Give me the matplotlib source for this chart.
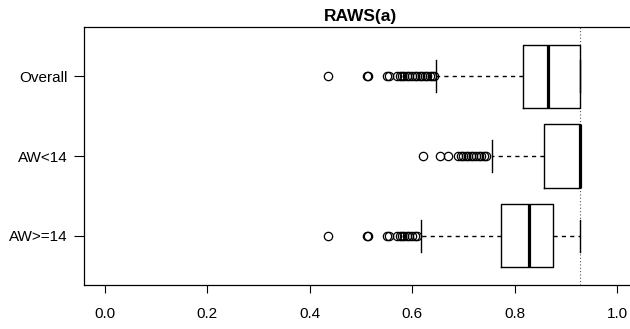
import matplotlib
matplotlib.use("Agg")
import matplotlib.pyplot as plt

plt.rcParams['font.family'] = ['Liberation Sans', 'DejaVu Sans']

categories = ["Overall", "AW<14", "AW>=14"]
q1 = [0.816, 0.857, 0.773]
median = [0.865, 0.928, 0.829]
q3 = [0.928, 0.928, 0.876]
whisker_low = [0.647, 0.757, 0.618]
whisker_high = [0.928, 0.928, 0.928]
outliers = [
    [0.437, 0.513, 0.515, 0.551, 0.556, 0.570, 0.576, 0.580, 0.585, 0.590, 0.595,
     0.600, 0.605, 0.610, 0.615, 0.620, 0.625, 0.630, 0.635, 0.640, 0.643],
    [0.622, 0.654, 0.671, 0.689, 0.695, 0.700, 0.706, 0.710, 0.715, 0.720, 0.725,
     0.730, 0.735, 0.740, 0.745],
    [0.437, 0.513, 0.515, 0.551, 0.556, 0.570, 0.576, 0.580, 0.585, 0.590, 0.595,
     0.600, 0.605, 0.610],
]
reference_value = 0.928
title = "RAWS(a)"
xticks = [0.0, 0.2, 0.4, 0.6, 0.8, 1.0]

fig = plt.figure(figsize=(6.30, 3.29), dpi=100)
ax = fig.add_axes([84/630, 1-285/329, 553.5/630, 258/329])

stats = []
for i, c in enumerate(categories):
    stats.append(dict(label=c, med=median[i], q1=q1[i], q3=q3[i],
                      whislo=whisker_low[i], whishi=whisker_high[i],
                      fliers=outliers[i]))
positions = [3, 2, 1]
ax.bxp(stats, positions=positions, vert=False, widths=0.8, capwidths=0.4,
       showfliers=True,
       boxprops=dict(color='black', linewidth=1.0),
       medianprops=dict(color='black', linewidth=2.3, solid_capstyle='butt'),
       whiskerprops=dict(color='black', linewidth=1.0, linestyle=(0, (3, 3))),
       capprops=dict(color='black', linewidth=1.0),
       flierprops=dict(marker='o', markersize=6, markerfacecolor='none',
                       markeredgecolor='black', markeredgewidth=0.9))

ax.axvline(reference_value, color='#555555', linestyle=(0, (1, 2)), linewidth=0.8, zorder=0)

ax.set_xlim(-0.04, 1.04)
ax.set_ylim(0.38, 3.62)
ax.set_xticks(xticks)
ax.set_xticklabels([f"{t:.1f}" for t in xticks], fontsize=11)
ax.set_yticks(positions)
ax.set_yticklabels(categories, fontsize=11)
ax.tick_params(axis='x', length=6, width=0.8, pad=10)
ax.tick_params(axis='y', length=7, width=0.8, pad=5)
for s in ax.spines.values():
    s.set_linewidth(0.9)
ax.set_title(title, fontsize=12.5, fontweight='bold', pad=4)

fig.savefig("out.png", dpi=100)
